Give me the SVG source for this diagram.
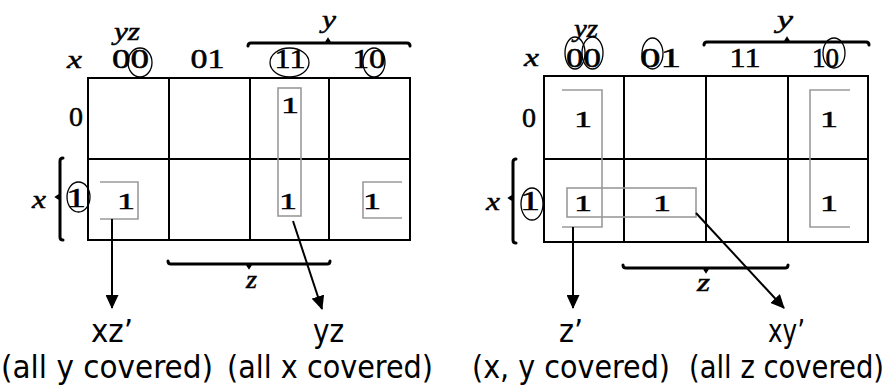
<svg xmlns="http://www.w3.org/2000/svg" width="889" height="388" viewBox="0 0 889 388">
<defs>
<style>
.grid{fill:none;stroke:#000;stroke-width:2}
.grp{fill:none;stroke:#9a9a9a;stroke-width:1.6}
.brk{fill:none;stroke:#000;stroke-width:3;stroke-linecap:round}
.ov{fill:none;stroke:#000;stroke-width:1.3}
.it{font-family:"Liberation Serif","DejaVu Serif",serif;font-style:italic;font-size:26px;fill:#000;stroke:#000;stroke-width:0.5}
.num{font-family:"Liberation Serif","DejaVu Serif",serif;font-size:27px;fill:#000;stroke:#000;stroke-width:0.5}
.one{font-family:"Liberation Serif","DejaVu Serif",serif;font-size:23px;fill:#000;stroke:#000;stroke-width:0.5}
.lab{font-family:"DejaVu Sans Condensed","DejaVu Sans",sans-serif;font-size:32px;fill:#000}
.con{fill:none;stroke:#000;stroke-width:2}
</style>
<marker id="ah" markerUnits="userSpaceOnUse" markerWidth="14" markerHeight="13" refX="13" refY="6.5" orient="auto">
<path d="M0,0 L14,6.5 L0,13 z" fill="#000"/>
</marker>
</defs>
<rect width="889" height="388" fill="#fff"/>

<g id="map1">
<rect class="grid" x="88" y="78" width="322" height="162"/>
<path class="grid" d="M169,78V240M250,78V240M329,78V240M88,159H410"/>
<path class="brk" d="M248,46Q248,43 251,43H407Q410,43 410,46M326,43L328,40L330,43"/>
<path class="brk" d="M63,158Q60,158 60,161V237Q60,240 63,240M60,195L57,197L60,199"/>
<path class="brk" d="M168,261Q168,264 171,264H327Q330,264 330,261M247,264L249,267L251,264"/>
<text class="it" x="114" y="40" textLength="26" lengthAdjust="spacingAndGlyphs">yz</text>
<text class="it" x="67" y="68" textLength="15" lengthAdjust="spacingAndGlyphs">x</text>
<text class="it" x="322" y="28" textLength="14" lengthAdjust="spacingAndGlyphs">y</text>
<text class="it" x="32" y="208" textLength="14" lengthAdjust="spacingAndGlyphs">x</text>
<text class="it" x="246" y="288" textLength="11" lengthAdjust="spacingAndGlyphs">z</text>
<text class="num" x="112" y="68" textLength="37" lengthAdjust="spacingAndGlyphs">00</text>
<text class="num" x="190.5" y="68" textLength="34" lengthAdjust="spacingAndGlyphs">01</text>
<text class="num" x="274.5" y="68" textLength="31" lengthAdjust="spacingAndGlyphs">11</text>
<text class="num" x="352.5" y="68" textLength="33" lengthAdjust="spacingAndGlyphs">10</text>
<text class="num" x="69" y="126" textLength="14" lengthAdjust="spacingAndGlyphs">0</text>
<text class="num" x="66" y="207" textLength="20" lengthAdjust="spacingAndGlyphs">1</text>
<ellipse class="ov" cx="140" cy="62.5" rx="12" ry="14.5"/>
<ellipse class="ov" cx="289.5" cy="62.5" rx="19.5" ry="14.5"/>
<ellipse class="ov" cx="374" cy="62.5" rx="11" ry="14.5"/>
<ellipse class="ov" cx="78.5" cy="197" rx="11.5" ry="15"/>
<g id="m1-groups">
<path class="grp" d="M100,182H138V219H100"/>
<rect class="grp" x="278" y="88" width="23" height="128"/>
<path class="grp" d="M402,182H363V218H402"/>
</g>
<text class="one" x="281" y="113" textLength="18" lengthAdjust="spacingAndGlyphs">1</text>
<text class="one" x="117" y="209" textLength="18" lengthAdjust="spacingAndGlyphs">1</text>
<text class="one" x="279" y="209" textLength="18" lengthAdjust="spacingAndGlyphs">1</text>
<text class="one" x="363" y="209" textLength="18" lengthAdjust="spacingAndGlyphs">1</text>
</g>

<g id="map2">
<rect class="grid" x="544" y="76" width="324" height="166"/>
<path class="grid" d="M624,76V242M706,76V242M788,76V242M544,159H868"/>
<path class="brk" d="M704,45Q704,42 707,42H866Q869,42 869,45M785,42L787,39L789,42"/>
<path class="brk" d="M516,159Q513,159 513,162V240Q513,243 516,243M513,196L510,198L513,200"/>
<path class="brk" d="M623,265Q623,268 626,268H785Q788,268 788,265M704,268L706,271L708,268"/>
<text class="it" x="574" y="37" textLength="24" lengthAdjust="spacingAndGlyphs">yz</text>
<text class="it" x="524" y="66" textLength="15" lengthAdjust="spacingAndGlyphs">x</text>
<text class="it" x="777" y="28" textLength="16" lengthAdjust="spacingAndGlyphs">y</text>
<text class="it" x="486" y="210" textLength="14" lengthAdjust="spacingAndGlyphs">x</text>
<text class="it" x="697" y="291" textLength="13" lengthAdjust="spacingAndGlyphs">z</text>
<text class="num" x="566" y="67" textLength="35" lengthAdjust="spacingAndGlyphs">00</text>
<text class="num" x="640" y="67" textLength="41" lengthAdjust="spacingAndGlyphs">01</text>
<text class="num" x="729.5" y="67" textLength="31" lengthAdjust="spacingAndGlyphs">11</text>
<text class="num" x="812" y="67" textLength="27" lengthAdjust="spacingAndGlyphs">10</text>
<text class="num" x="522" y="127" textLength="14" lengthAdjust="spacingAndGlyphs">0</text>
<text class="num" x="520" y="210" textLength="20" lengthAdjust="spacingAndGlyphs">1</text>
<ellipse class="ov" cx="575" cy="53" rx="10" ry="16"/>
<ellipse class="ov" cx="592.5" cy="53" rx="10.5" ry="16"/>
<ellipse class="ov" cx="652.5" cy="53.5" rx="10.5" ry="15.5"/>
<ellipse class="ov" cx="834" cy="53" rx="11" ry="15"/>
<ellipse class="ov" cx="532" cy="204" rx="11" ry="16"/>
<g id="m2-groups">
<path class="grp" d="M562,90H602V227H562"/>
<path class="grp" d="M850,90H810V227H850"/>
<rect class="grp" x="567" y="188" width="129" height="29"/>
</g>
<text class="one" x="574" y="127" textLength="18" lengthAdjust="spacingAndGlyphs">1</text>
<text class="one" x="820" y="127" textLength="18" lengthAdjust="spacingAndGlyphs">1</text>
<text class="one" x="574" y="211" textLength="18" lengthAdjust="spacingAndGlyphs">1</text>
<text class="one" x="653" y="211" textLength="18" lengthAdjust="spacingAndGlyphs">1</text>
<text class="one" x="820" y="211" textLength="18" lengthAdjust="spacingAndGlyphs">1</text>
</g>

<g id="connectors">
<line class="con" x1="112" y1="219" x2="112" y2="308" marker-end="url(#ah)"/>
<line class="con" x1="293" y1="221" x2="322" y2="309" marker-end="url(#ah)"/>
<line class="con" x1="573" y1="227" x2="573" y2="308" marker-end="url(#ah)"/>
<line class="con" x1="696" y1="213" x2="784" y2="308" marker-end="url(#ah)"/>
</g>

<g id="label-xz">
<text class="lab" x="91" y="342" textLength="42" lengthAdjust="spacingAndGlyphs">xz’</text>
<text class="lab" x="1" y="378" textLength="212" lengthAdjust="spacingAndGlyphs">(all y covered)</text>
</g>
<g id="label-yz">
<text class="lab" x="313" y="342" textLength="31" lengthAdjust="spacingAndGlyphs">yz</text>
<text class="lab" x="227" y="378" textLength="206" lengthAdjust="spacingAndGlyphs">(all x covered)</text>
</g>
<g id="label-z">
<text class="lab" x="559" y="342" textLength="24" lengthAdjust="spacingAndGlyphs">z’</text>
<text class="lab" x="472" y="378" textLength="198" lengthAdjust="spacingAndGlyphs">(x, y covered)</text>
</g>
<g id="label-xy">
<text class="lab" x="768" y="342" textLength="37" lengthAdjust="spacingAndGlyphs">xy’</text>
<text class="lab" x="689" y="378" textLength="195" lengthAdjust="spacingAndGlyphs">(all z covered)</text>
</g>
</svg>
